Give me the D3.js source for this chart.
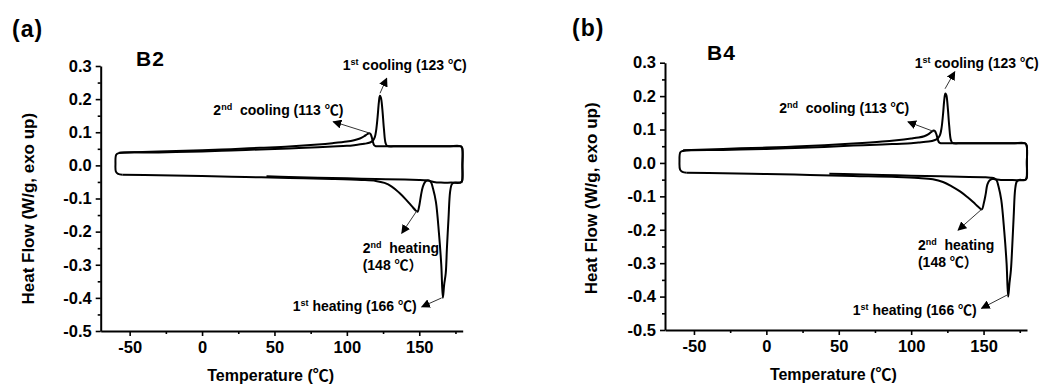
<!DOCTYPE html>
<html>
<head>
<meta charset="utf-8">
<script src="https://cdn.jsdelivr.net/npm/d3@7"></script>
<style>
  html, body { margin: 0; padding: 0; background: #fff; }
  svg { display: block; }
  text { font-family: "Liberation Sans", Arial, "Noto Sans CJK SC", sans-serif; font-weight: bold; fill: #000; }
</style>
</head>
<body>
<script>
// ---------------- DATA ----------------
const xTicks = [-50, 0, 50, 100, 150];
const xMinorTicks = [-25, 25, 75, 125, 175];
const yTicks = [0.3, 0.2, 0.1, 0.0, -0.1, -0.2, -0.3, -0.4, -0.5];
const yMinorTicks = [0.25, 0.15, 0.05, -0.05, -0.15, -0.25, -0.35, -0.45];
const xDomain = [-70, 180];
const yDomain = [-0.5, 0.3];

// Panel (a) B2 : [temperature °C, heat flow W/g]
const b2Heating1 = [[44.5,-0.033],[60,-0.035],[80,-0.037],[100,-0.039],[120,-0.041],[140,-0.043],[150,-0.044],[155,-0.045],[156.8,-0.046],[158.2,-0.052],[159.5,-0.07],[161.5,-0.11],[163.6,-0.205],[165.2,-0.3],[166.3,-0.40],[167.2,-0.36],[168.3,-0.325],[169.1,-0.25],[170.2,-0.16],[171.3,-0.08],[172.5,-0.057],[174,-0.052],[177,-0.052],[179,-0.052]];
const b2Cooling1 = [[179,-0.052],[179.6,-0.046],[179.8,0.0],[179.6,0.053],[178.5,0.058],[170,0.058],[150,0.058],[135,0.058],[127.8,0.059],[126.7,0.068],[125.6,0.11],[124.5,0.17],[123.5,0.205],[122.8,0.21],[122.1,0.19],[121.2,0.145],[120.2,0.105],[119.3,0.085],[118,0.075],[116,0.069],[112,0.065],[105,0.061],[100,0.059],[90,0.057],[80,0.055],[60,0.051],[40,0.048],[20,0.045],[0,0.042],[-30,0.039],[-57.5,0.037],[-59.3,0.032],[-59.8,0.004],[-59.5,-0.019],[-58,-0.026],[-55,-0.028]];
const b2Heating2 = [[-55,-0.028],[-30,-0.030],[0,-0.032],[30,-0.035],[60,-0.038],[90,-0.041],[110,-0.044],[120,-0.047],[126,-0.053],[131,-0.064],[136,-0.082],[141,-0.104],[145,-0.124],[147.5,-0.136],[148.8,-0.14],[150,-0.122],[151.2,-0.09],[152.5,-0.064],[154,-0.05],[155.8,-0.046],[157.5,-0.047],[160,-0.05],[165,-0.052],[172,-0.052],[178.5,-0.052],[179.6,-0.047],[179.8,0.0],[179.6,0.053],[178.5,0.058]];
const b2Cooling2 = [[178.5,0.058],[160,0.058],[140,0.058],[125,0.058],[120,0.058],[118.8,0.061],[118,0.071],[117.2,0.085],[116.3,0.095],[115.3,0.097],[114,0.094],[112,0.088],[109,0.081],[105,0.076],[100,0.072],[90,0.067],[80,0.063],[60,0.057],[40,0.053],[20,0.049],[0,0.046],[-30,0.042],[-57.5,0.038]];

// Panel (b) B4
const b4Heating1 = [[43.5,-0.032],[60,-0.034],[80,-0.036],[100,-0.038],[120,-0.040],[140,-0.042],[150,-0.043],[155,-0.044],[157.5,-0.046],[159,-0.052],[160.3,-0.07],[162.2,-0.11],[164.3,-0.205],[165.9,-0.3],[167,-0.40],[167.9,-0.36],[168.9,-0.32],[169.8,-0.25],[170.8,-0.16],[171.8,-0.08],[172.9,-0.056],[174.5,-0.051],[177,-0.051],[179,-0.051]];
const b4Cooling1 = [[179,-0.051],[179.7,-0.045],[179.9,0.0],[179.7,0.053],[178.6,0.059],[170,0.059],[150,0.059],[135,0.059],[128.5,0.06],[127.4,0.069],[126.3,0.11],[125.2,0.17],[124.3,0.203],[123.6,0.208],[122.9,0.19],[122,0.145],[121,0.105],[120,0.085],[118.5,0.074],[116,0.068],[112,0.064],[105,0.061],[100,0.059],[90,0.057],[80,0.055],[60,0.052],[40,0.048],[20,0.045],[0,0.042],[-30,0.039],[-57.5,0.036],[-59.4,0.032],[-60,0.004],[-59.6,-0.02],[-58,-0.027],[-55,-0.029]];
const b4Heating2 = [[-55,-0.029],[-30,-0.031],[0,-0.033],[30,-0.036],[60,-0.039],[90,-0.042],[105,-0.045],[115,-0.049],[122,-0.057],[128,-0.07],[134,-0.086],[139,-0.103],[143,-0.118],[146.5,-0.132],[148.8,-0.139],[150.2,-0.12],[151.4,-0.095],[152.6,-0.065],[154,-0.053],[155.8,-0.048],[158,-0.049],[162,-0.051],[170,-0.051],[178.5,-0.051],[179.7,-0.046],[179.9,0.0],[179.7,0.053],[178.6,0.059]];
const b4Cooling2 = [[178.6,0.059],[160,0.059],[140,0.059],[125,0.059],[120.5,0.059],[119.2,0.062],[118.3,0.072],[117.4,0.086],[116.5,0.095],[115.5,0.097],[114,0.093],[112,0.086],[109,0.08],[105,0.076],[100,0.073],[90,0.068],[80,0.064],[60,0.058],[40,0.053],[20,0.049],[0,0.046],[-30,0.042],[-57.5,0.038]];

// Annotations (text anchor and arrow in data units)
const annotLabels = [
  {main: "1", sup: "st", rest: " cooling (123 ℃)"},
  {main: "2", sup: "nd", rest: "  cooling (113 ℃)"},
  {main: "2", sup: "nd", rest: "  heating", line2: "(148 ℃）"},
  {main: "1", sup: "st", rest: " heating (166 ℃)"}
];
const b2Annot = [
  {text: [97.1, 0.2865], from: [122.9, 0.2177], to: [127.5, 0.263]},
  {text: [7.8, 0.152], from: [116.0, 0.097], to: [90.6, 0.132]},
  {text: [110.9, -0.2645], text2: [110.9, -0.317], from: [148.2, -0.138], to: [137.9, -0.205]},
  {text: [62.6, -0.441], from: [165.5, -0.40], to: [151.7, -0.427]}
];
const b4Annot = [
  {text: [102.4, 0.284], from: [123.4, 0.222], to: [130.1, 0.273]},
  {text: [8.9, 0.149], from: [116.3, 0.093], to: [97.8, 0.123]},
  {text: [104.7, -0.261], text2: [104.7, -0.312], from: [148.6, -0.139], to: [132.4, -0.201]},
  {text: [59.7, -0.455], from: [166.4, -0.395], to: [148.6, -0.435]}
];

// ---------------- LAYOUT ----------------
const W = 1039, H = 385;
const svg = d3.select("body").append("svg").attr("width", W).attr("height", H);
svg.append("rect").attr("width", W).attr("height", H).attr("fill", "#fff");

const defs = svg.append("defs");
defs.append("marker")
  .attr("id", "arrow").attr("viewBox", "0 0 10 10")
  .attr("refX", 9).attr("refY", 5)
  .attr("markerUnits", "userSpaceOnUse")
  .attr("markerWidth", 9).attr("markerHeight", 9)
  .attr("orient", "auto")
  .append("path").attr("d", "M0,0 L10,5 L0,10 Z").attr("fill", "#000");

const panels = [
  {series: [b2Heating1, b2Cooling1, b2Heating2, b2Cooling2], annot: b2Annot,
   xr: [100.7, 462.7], yr: [331, 66], label: "(a)", labelPos: [12, 37], name: "B2", namePos: [136, 66],
   yTitle: [34, 208.7], xTitle: [270.7, 381]},
  {series: [b4Heating1, b4Cooling1, b4Heating2, b4Cooling2], annot: b4Annot,
   xr: [665, 1027], yr: [330, 62.7], label: "(b)", labelPos: [572, 36], name: "B4", namePos: [707, 60],
   yTitle: [597, 198.3], xTitle: [833.3, 380]}
];

panels.forEach(p => {
  const g = svg.append("g");
  const x = d3.scaleLinear().domain(xDomain).range(p.xr);
  const y = d3.scaleLinear().domain(yDomain).range(p.yr);

  // axes
  g.append("g").attr("transform", `translate(0,${p.yr[0]})`)
    .call(d3.axisBottom(x).tickValues(xTicks).tickSize(5).tickSizeOuter(0).tickPadding(5).tickFormat(d => String(d)));
  g.append("g").attr("transform", `translate(0,${p.yr[0]})`)
    .call(d3.axisBottom(x).tickValues(xMinorTicks).tickSize(3).tickSizeOuter(0).tickFormat(""))
    .select(".domain").remove();
  g.append("g").attr("transform", `translate(${p.xr[0]},0)`)
    .call(d3.axisLeft(y).tickValues(yTicks).tickSize(5).tickSizeOuter(0).tickPadding(4).tickFormat(d => d.toFixed(1)));
  g.append("g").attr("transform", `translate(${p.xr[0]},0)`)
    .call(d3.axisLeft(y).tickValues(yMinorTicks).tickSize(3).tickSizeOuter(0).tickFormat(""))
    .select(".domain").remove();
  g.selectAll(".domain").attr("stroke", "#000").attr("stroke-width", 2);
  g.selectAll(".tick line").attr("stroke", "#000").attr("stroke-width", 1.6);
  g.selectAll(".tick text").attr("font-size", 16.5).attr("font-weight", "bold")
    .attr("font-family", '"Liberation Sans", Arial, sans-serif').attr("fill", "#000");

  // curves
  const line = d3.line().x(d => x(d[0])).y(d => y(d[1])).curve(d3.curveCatmullRom.alpha(0.5));
  p.series.forEach(s => {
    g.append("path").attr("d", line(s)).attr("fill", "none")
      .attr("stroke", "#000").attr("stroke-width", 2).attr("stroke-linejoin", "round");
  });

  // annotations
  p.annot.forEach((a, i) => {
    const lab = annotLabels[i];
    g.append("line")
      .attr("x1", x(a.from[0])).attr("y1", y(a.from[1]))
      .attr("x2", x(a.to[0])).attr("y2", y(a.to[1]))
      .attr("stroke", "#333").attr("stroke-width", 1)
      .attr("marker-end", "url(#arrow)");
    const t = g.append("text").attr("x", x(a.text[0])).attr("y", y(a.text[1])).attr("font-size", 14)
      .style("white-space", "pre");
    t.append("tspan").text(lab.main);
    t.append("tspan").attr("font-size", 9).attr("dy", -5).text(lab.sup);
    t.append("tspan").attr("dy", 5).text(lab.rest);
    if (lab.line2) {
      g.append("text").attr("x", x(a.text2[0])).attr("y", y(a.text2[1])).attr("font-size", 14).text(lab.line2);
    }
  });

  // titles
  g.append("text").attr("x", p.labelPos[0]).attr("y", p.labelPos[1]).attr("font-size", 23)
    .attr("letter-spacing", 1).text(p.label);
  g.append("text").attr("x", p.namePos[0]).attr("y", p.namePos[1]).attr("font-size", 21)
    .attr("letter-spacing", 1).text(p.name);
  g.append("text").attr("transform", `translate(${p.yTitle[0]},${p.yTitle[1]}) rotate(-90)`)
    .attr("text-anchor", "middle").attr("font-size", 17).text("Heat Flow (W/g, exo up)");
  g.append("text").attr("x", p.xTitle[0]).attr("y", p.xTitle[1]).attr("text-anchor", "middle")
    .attr("font-size", 16).text("Temperature (℃)");
});
</script>
</body>
</html>
